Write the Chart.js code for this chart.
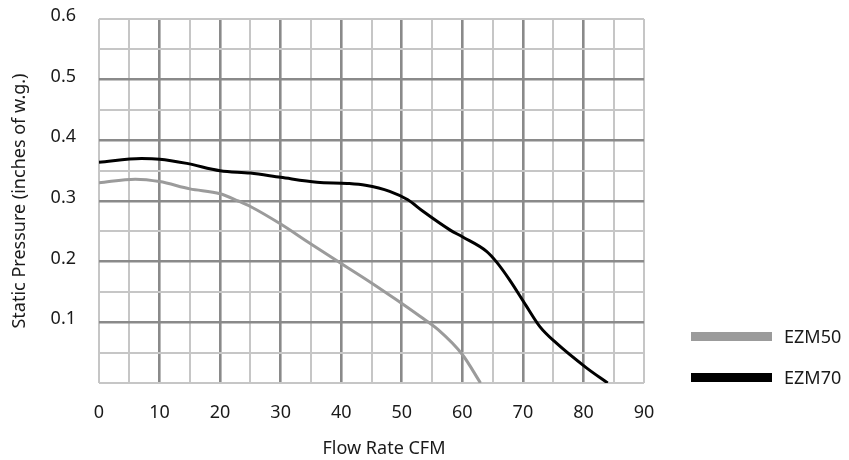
<!DOCTYPE html>
<html>
<head>
<meta charset="utf-8">
<script src="https://cdn.jsdelivr.net/npm/chart.js@4/dist/chart.umd.min.js"></script>
<style>
  html, body { margin: 0; padding: 0; background: #ffffff; }
  #wrap { position: relative; width: 849px; height: 460px; }
</style>
</head>
<body>
<div id="wrap"><canvas id="c"></canvas></div>
<script>
// ---- data ----
const seriesNames = ['EZM50', 'EZM70'];
const ezm50Flow = [0, 6, 10, 15, 20, 23, 25, 30, 35, 40, 45, 49, 53, 56, 60, 63];
const ezm50Pressure = [0.330, 0.336, 0.332, 0.320, 0.312, 0.300, 0.291, 0.262, 0.229, 0.197, 0.165, 0.138, 0.110, 0.088, 0.047, 0.0];
const ezm70Flow = [0, 7, 10, 14.5, 20, 25, 30, 36, 41, 44, 48, 51, 53.5, 58, 60, 64, 65.6, 67.8, 70.5, 72.8, 75.5, 80.5, 84];
const ezm70Pressure = [0.364, 0.370, 0.369, 0.362, 0.350, 0.346, 0.339, 0.331, 0.329, 0.326, 0.316, 0.302, 0.283, 0.252, 0.241, 0.217, 0.200, 0.170, 0.128, 0.093, 0.066, 0.025, 0.0];
const xTickLabels = ['0', '10', '20', '30', '40', '50', '60', '70', '80', '90'];
const yTickLabels = ['0.1', '0.2', '0.3', '0.4', '0.5', '0.6'];
const xTitle = 'Flow Rate CFM';
const yTitle = 'Static Pressure (inches of w.g.)';

const toPoints = (xs, ys) => xs.map((x, i) => ({ x: x, y: ys[i] }));

const DARK = '#8a8a8a';
const LIGHT = '#c6c6c6';
const TEXT = '#1a1a1a';
const FONT = '"Noto Sans", "Open Sans", sans-serif';

// legend on the right + x-axis title (drawn as canvas text like the rest of the chart)
const sideLegend = {
  id: 'sideLegend',
  afterDraw(chart) {
    const ctx = chart.ctx;
    const rows = [336.5, 377.5];
    ctx.save();
    chart.data.datasets.forEach((ds, i) => {
      const y = rows[i];
      ctx.fillStyle = ds.borderColor;
      ctx.fillRect(691, y - 4.5, 81, 9);
      ctx.fillStyle = TEXT;
      ctx.font = '18px ' + FONT;
      ctx.textBaseline = 'middle';
      ctx.textAlign = 'left';
      ctx.fillText(ds.label, 784, y + 1);
    });
    ctx.font = '18px ' + FONT;
    ctx.textAlign = 'center';
    ctx.textBaseline = 'middle';
    ctx.fillText(xTitle, 384, 449);
    ctx.restore();
  }
};

const isMajorX = v => Math.round(v) % 10 === 0 && v > 0 && v < 90;
const yKey = v => Math.round(v * 100);
const isMajorY = v => yKey(v) % 10 === 0 && yKey(v) > 0 && yKey(v) < 60;

new Chart(document.getElementById('c'), {
  type: 'line',
  data: {
    datasets: [
      {
        label: seriesNames[0],
        data: toPoints(ezm50Flow, ezm50Pressure),
        borderColor: '#9b9b9b',
        borderWidth: 3,
        pointRadius: 0,
        fill: false,
        cubicInterpolationMode: 'monotone'
      },
      {
        label: seriesNames[1],
        data: toPoints(ezm70Flow, ezm70Pressure),
        borderColor: '#000000',
        borderWidth: 3,
        pointRadius: 0,
        fill: false,
        cubicInterpolationMode: 'monotone'
      }
    ]
  },
  options: {
    responsive: true,
    maintainAspectRatio: false,
    animation: false,
    devicePixelRatio: 1,
    layout: { padding: { top: 19, right: 205, bottom: 0, left: 0 } },
    plugins: {
      legend: { display: false },
      tooltip: { enabled: false }
    },
    scales: {
      x: {
        type: 'linear',
        min: 0,
        max: 90,
        afterFit(scale) { scale.height = 77; scale.paddingLeft = 0; scale.paddingRight = 0; },
        ticks: {
          stepSize: 5,
          autoSkip: false,
          maxRotation: 0,
          padding: 19,
          color: TEXT,
          font: { family: FONT, size: 18 },
          callback: (v) => {
            const idx = Math.round(v) / 10;
            return Math.round(v) % 10 === 0 ? xTickLabels[idx] : '';
          }
        },
        grid: {
          drawTicks: false,
          color: (ctx) => isMajorX(ctx.tick.value) ? DARK : LIGHT,
          lineWidth: (ctx) => isMajorX(ctx.tick.value) ? 2.6 : 2
        },
        border: { display: false },
        title: { display: false, text: xTitle }
      },
      y: {
        type: 'linear',
        min: 0,
        max: 0.6,
        afterFit(scale) { scale.width = 99; scale.paddingTop = 0; scale.paddingBottom = 0; },
        ticks: {
          stepSize: 0.05,
          autoSkip: false,
          padding: 23,
          labelOffset: -3,
          color: TEXT,
          font: { family: FONT, size: 18 },
          callback: (v) => {
            const k = yKey(v);
            return (k % 10 === 0 && k > 0) ? yTickLabels[k / 10 - 1] : '';
          }
        },
        grid: {
          drawTicks: false,
          color: (ctx) => isMajorY(ctx.tick.value) ? DARK : LIGHT,
          lineWidth: (ctx) => isMajorY(ctx.tick.value) ? 2.6 : 2
        },
        border: { display: false },
        title: {
          display: true,
          text: yTitle,
          color: TEXT,
          font: { family: FONT, size: 18 },
          padding: { top: 9, bottom: 0 }
        }
      }
    }
  },
  plugins: [sideLegend]
});
</script>
</body>
</html>
